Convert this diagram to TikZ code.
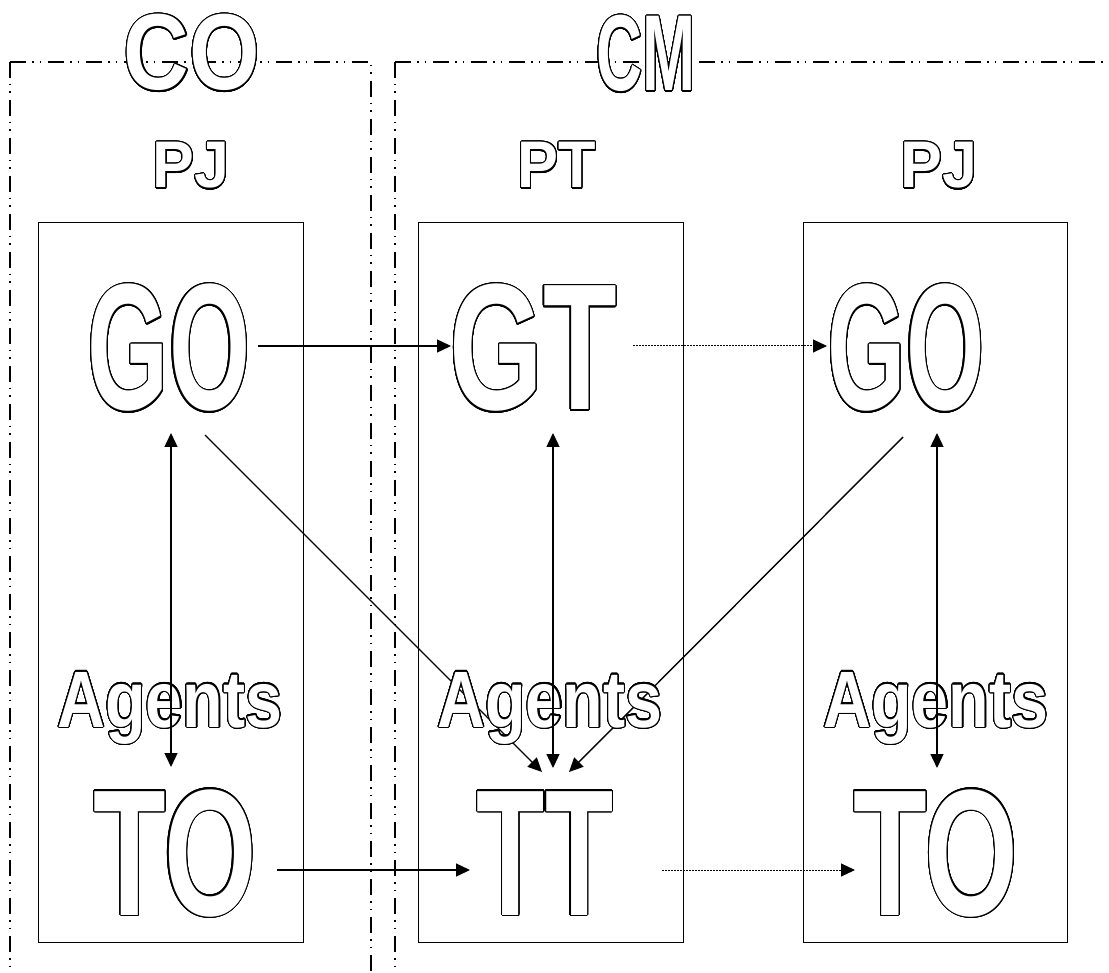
\documentclass[tikz,border=0pt]{standalone}
\usepackage{fontspec}
\usepackage[copies]{contour}
\usetikzlibrary{arrows.meta}
\contourlength{1.1pt}
\contournumber{32}
% hollow lettering: white glyphs with a black ring
\newcommand\hollow[3]{{\fontspec{Liberation Sans Bold}[FakeStretch=#2]\fontsize{#1}{#1}\selectfont\color{white}\contour{black}{#3}}}
\tikzset{
  word/.style={inner sep=0pt, anchor=base},
  frame/.style={line width=1.3pt, dash pattern=on 16pt off 6pt on 1.5pt off 6pt on 1.5pt off 7pt},
  panel/.style={draw, line width=1.4pt},
  tip/.tip={Triangle[length=14pt,width=13pt]},
  link/.style={line width=1.4pt, -tip},
  twoway/.style={line width=1.4pt, tip-tip},
  hint/.style={line width=1pt, dash pattern=on 1.5pt off 1.5pt, -tip},
}
\begin{document}
\begin{tikzpicture}[x=1pt,y=-1pt]
\clip (0,0) rectangle (1109,973);
\fill[white] (0,0) rectangle (1109,973);

% dash-dot-dot frames of the two groups
\draw[frame] (10,62) -- (371,62) -- (371,1000);
\draw[frame] (10,62) -- (10,1000);
\draw[frame] (395,62) -- (1130,62);
\draw[frame] (395,62) -- (395,1000);

% panels
\node[panel, minimum width=265pt, minimum height=720pt, anchor=north west] (boxL) at (38,222) {};
\node[panel, minimum width=265pt, minimum height=720pt, anchor=north west] (boxM) at (418,222) {};
\node[panel, minimum width=264pt, minimum height=720pt, anchor=north west] (boxR) at (803,222) {};

% endpoints of the connectors
\coordinate (goLe) at (258,346);  \coordinate (gtW) at (451,346);
\coordinate (gtE) at (633,346);   \coordinate (goRw) at (827,346);
\coordinate (toLe) at (277,870);  \coordinate (ttW) at (470,870);
\coordinate (ttE) at (662,870);   \coordinate (toRw) at (855,870);
\coordinate (goLs) at (171,433);  \coordinate (toLn) at (171,767);
\coordinate (gtS) at (553,433);   \coordinate (ttN) at (553,768);
\coordinate (goRs) at (937,433);  \coordinate (toRn) at (937,768);
\coordinate (goLd) at (205,435);  \coordinate (ttNW) at (542,772);
\coordinate (goRd) at (903,437);  \coordinate (ttNE) at (569,772);

% diagonals pass behind the lettering
\draw[link] (goLd) -- (ttNW);
\draw[link] (goRd) -- (ttNE);

% headings
\node[word] (co) at (192,90) {\hollow{108}{0.84}{CO}};
\node[word] (cm) at (646,91) {\hollow{108}{0.59}{CM}};
\node[word] (pjL) at (191,188) {\hollow{66}{0.95}{PJ}};
\node[word] (pt) at (557,188) {\hollow{66}{0.93}{PT}};
\node[word] (pjR) at (939,188) {\hollow{66}{0.95}{PJ}};

% goals
\node[word] (goL) at (169,410) {\hollow{180}{0.58}{GO}};
\node[word] (gt) at (533,410) {\hollow{180}{0.67}{GT}};
\node[word] (goR) at (906,410) {\hollow{180}{0.56}{GO}};

% agents
\node[word] (agL) at (170,727) {\hollow{80}{0.83}{Agents}};
\node[word] (agM) at (550,727) {\hollow{80}{0.83}{Agents}};
\node[word] (agR) at (936,727) {\hollow{80}{0.83}{Agents}};

% tasks
\node[word] (toL) at (175,915) {\hollow{180}{0.66}{TO}};
\node[word] (tt) at (545,915) {\hollow{180}{0.62}{TT}};
\node[word] (toR) at (936,915) {\hollow{180}{0.67}{TO}};

% connectors
\draw[link] (goLe) -- (gtW);
\draw[hint] (gtE) -- (goRw);
\draw[link] (toLe) -- (ttW);
\draw[hint] (ttE) -- (toRw);
\draw[twoway] (goLs) -- (toLn);
\draw[twoway] (gtS) -- (ttN);
\draw[twoway] (goRs) -- (toRn);
\end{tikzpicture}
\end{document}
